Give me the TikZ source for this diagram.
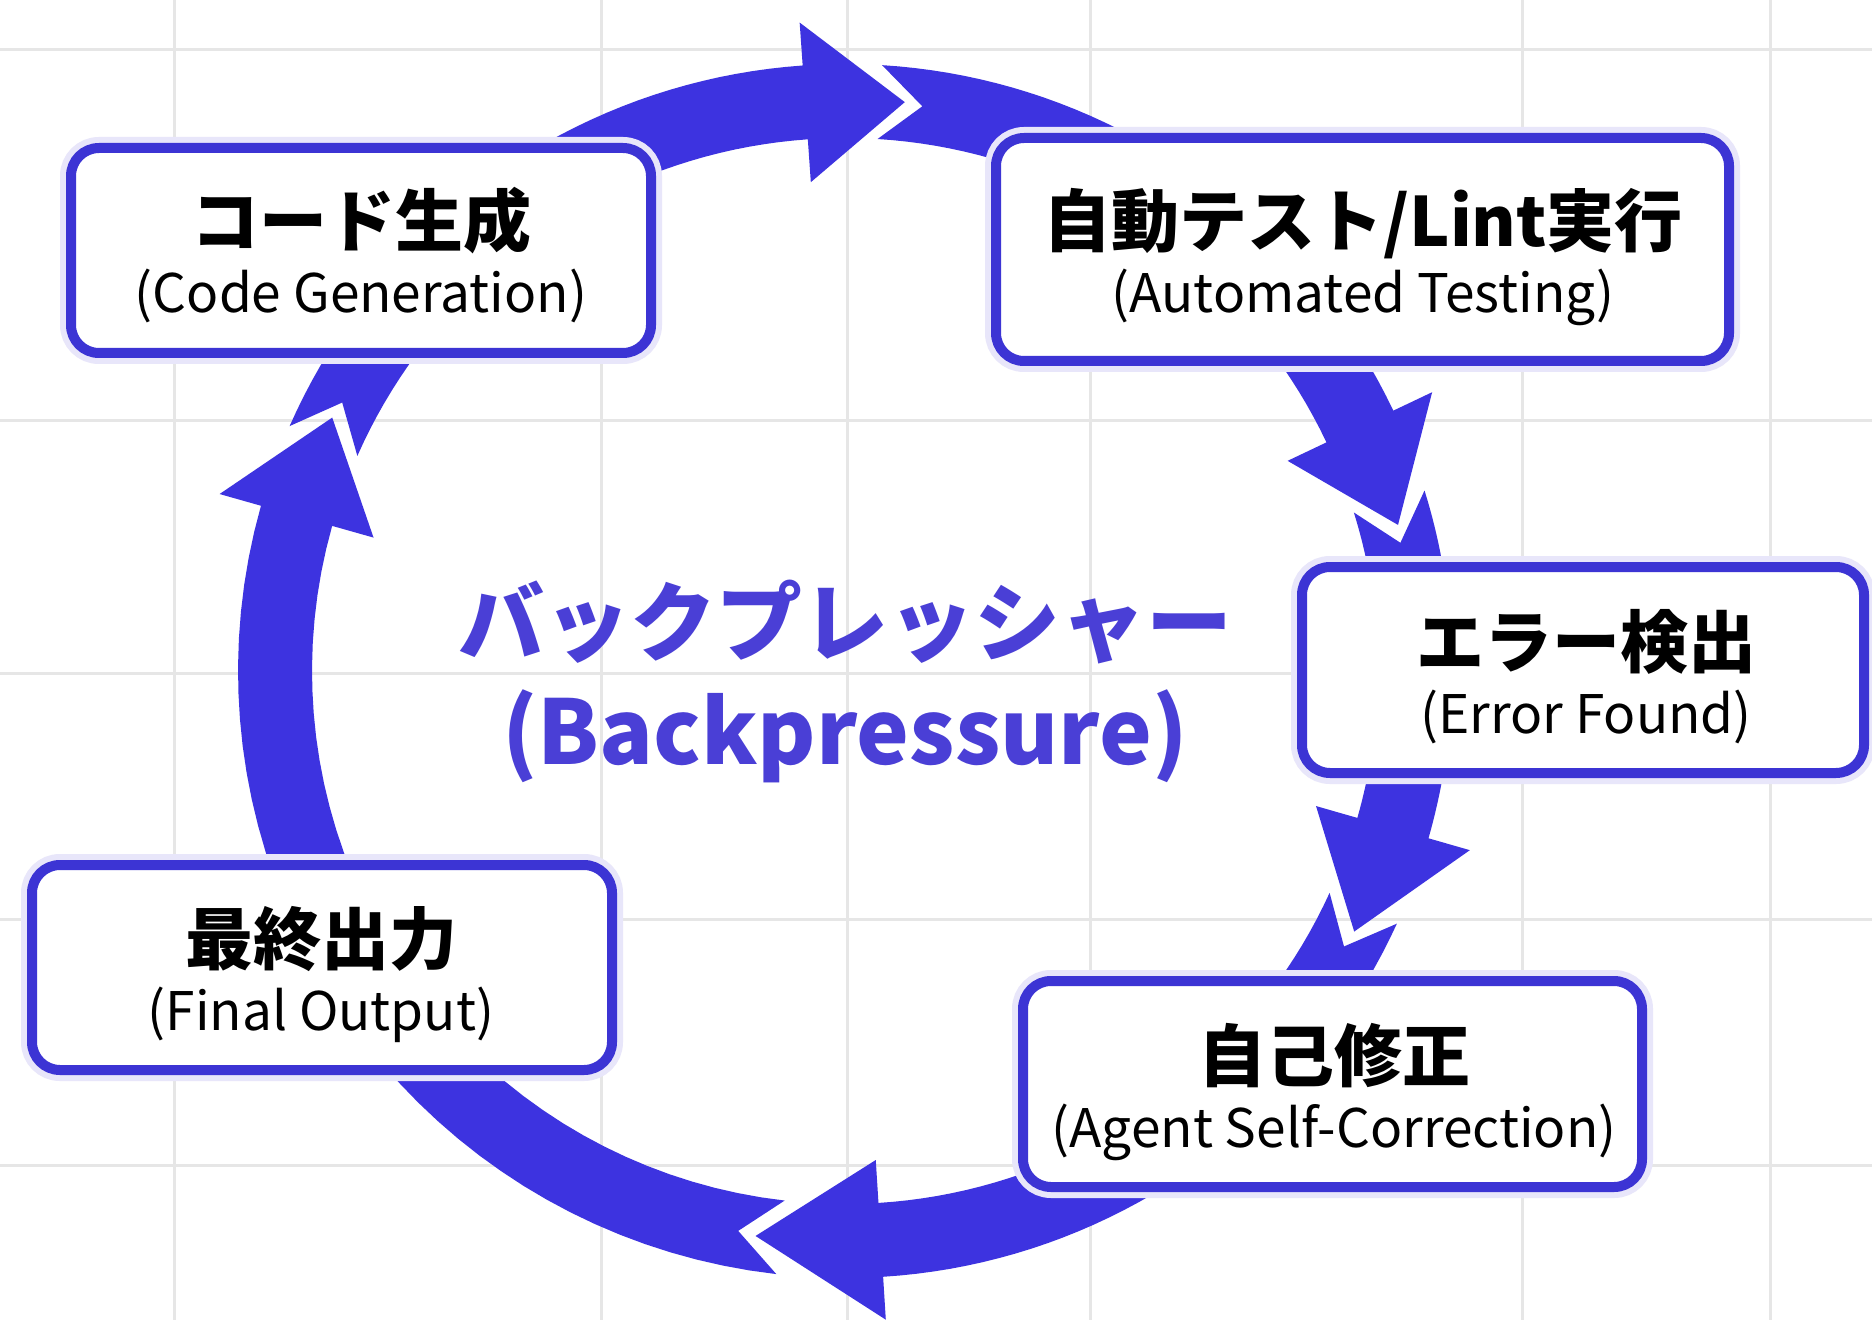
\documentclass[tikz,border=0pt]{standalone}
\usepackage{fontspec}
\newfontfamily\jp{Noto Sans CJK JP}
\definecolor{arrowc}{HTML}{3D33E0}
\definecolor{boxc}{HTML}{3C34D4}
\definecolor{centerc}{HTML}{4A3FD6}
\definecolor{gridc}{HTML}{E6E6E6}
\definecolor{glowc}{HTML}{E8E6FA}
\newcommand\ringseg[4]{%
  \fill[arrowfill] ({845+607*cos(#1)},{671+607*sin(#1)})
    -- plot[domain=#1:#3,samples=40,variable=\t] ({845+607*cos(\t)},{671+607*sin(\t)})
    -- ({845+650*cos(#3)},{671+650*sin(#3)})
    -- ({845+572*cos(#4)},{671+572*sin(#4)})
    -- ({845+490*cos(#3)},{671+490*sin(#3)})
    -- ({845+533*cos(#3)},{671+533*sin(#3)})
    -- plot[domain=#3:#1,samples=40,variable=\t] ({845+533*cos(\t)},{671+533*sin(\t)})
    -- ({845+570*cos(#2)},{671+570*sin(#2)}) -- cycle;}
\begin{document}
\begin{tikzpicture}[x=0.5pt,y=-0.5pt,
  gridline/.style={draw=gridc,line width=1.5pt},
  arrowfill/.style={fill=arrowc},
  stagebox/.style={draw=boxc,fill=white,line width=5pt,rounded corners=14pt,
    preaction={draw=glowc,line width=11pt}},
  titletext/.style={anchor=base,inner sep=0pt,font=\jp\bfseries\fontsize{34}{40}\selectfont,text=black},
  subtext/.style={anchor=base,inner sep=0pt,font=\jp\fontsize{26.6}{32}\selectfont,text=black},
]
\useasboundingbox (0,0) rectangle (1872,1320);
\fill[white] (0,0) rectangle (1872,1320);
% grid
\foreach \gx in {174,601,847,1090,1522,1770} \draw[gridline] (\gx,0) -- (\gx,1320);
\foreach \gy in {50,421,673,919,1165} \draw[gridline] (0,\gy) -- (1872,\gy);
% ring of arrows
\ringseg{203.8}{208.1}{266}{276}
\ringseg{273.5}{277.8}{334.6}{345.2}
\ringseg{342.7}{347.0}{376}{387.1}
\ringseg{384.6}{388.9}{446.4}{459}
\ringseg{456.5}{460.8}{555.8}{566.3}
% boxes
\draw[stagebox] (71,148) rectangle (651,353);
\draw[stagebox] (996,138) rectangle (1729,361);
\draw[stagebox] (1302,567) rectangle (1864,773);
\draw[stagebox] (1023,981) rectangle (1642,1187);
\draw[stagebox] (32,865) rectangle (612,1070);
% box texts
\node[titletext] (t1) at (361,247) {コード生成};
\node[subtext]   (s1) at (361,313) {(Code Generation)};
\node[titletext] (t2) at (1363,247) {自動テスト/Lint実行};
\node[subtext]   (s2) at (1363,313) {(Automated Testing)};
\node[titletext] (t3) at (1586,667) {エラー検出};
\node[subtext]   (s3) at (1586,733) {(Error Found)};
\node[titletext] (t4) at (1334,1081) {自己修正};
\node[subtext]   (s4) at (1334,1147) {(Agent Self-Correction)};
\node[titletext] (t5) at (321,964) {最終出力};
\node[subtext]   (s5) at (321,1030) {(Final Output)};
% center
\node[anchor=base,inner sep=0pt,font=\jp\bfseries\fontsize{43}{50}\selectfont,text=centerc] (c1) at (845,654) {バックプレッシャー};
\node[anchor=base,inner sep=0pt,font=\jp\bfseries\fontsize{44.5}{52}\selectfont,text=centerc] (c2) at (845,764) {(Backpressure)};
\end{tikzpicture}
\end{document}
